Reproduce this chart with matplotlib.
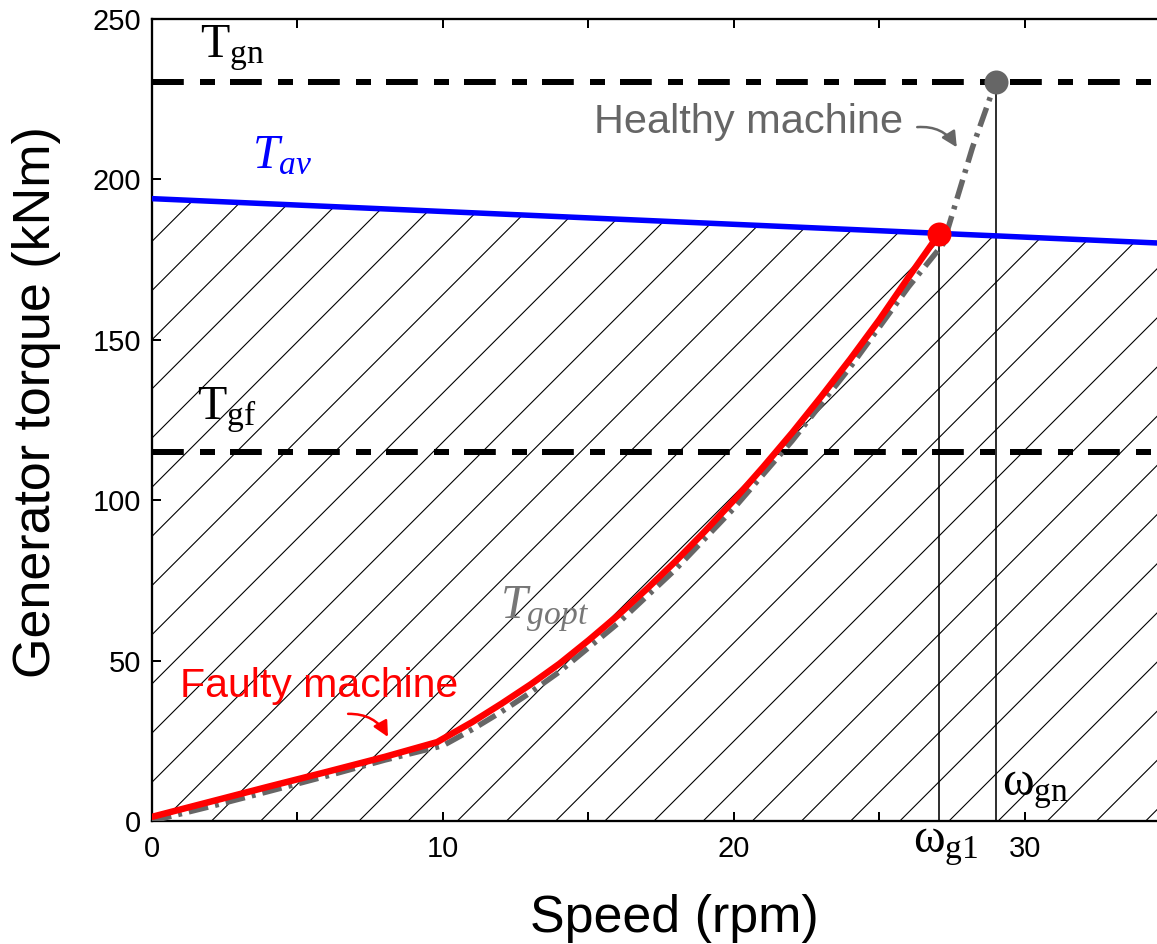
import numpy as np
import matplotlib
matplotlib.use("Agg")
import matplotlib.pyplot as plt

# torque / speed data (rpm, kNm)
healthy_speed = [0, 2, 4, 6, 8, 10, 11, 12, 13, 14, 15, 16, 17, 18, 19, 20, 21, 22,
                 23, 24, 25, 26, 27.2, 28.2, 29.0]
healthy_torque = [0, 4.5, 9.2, 14, 19, 23.5, 28.5, 34, 40, 46.5, 54, 61.5, 70, 78.5,
                  88, 97.5, 108, 118.5, 130, 141.5, 154, 166.5, 180, 210, 230.5]

faulty_speed = [0, 2, 4, 6, 8, 9.8, 11, 12, 13, 14, 15, 16, 17, 18, 19, 20, 21, 22,
                23, 24, 25, 26, 27.05]
faulty_torque = [1.3, 6, 10.7, 15.3, 20, 24.6, 30.8, 36.5, 42.5, 49, 56.3, 64, 72.3,
                 81, 90.3, 100, 110.3, 121, 132.3, 144, 156.3, 169.5, 183]

tav_speed = [0, 35]
tav_torque = [194, 180]

T_gn = 230.5
T_gf = 115
w_g1 = 27.05
w_gn = 29.0

DPI = 295
W, H = 1157, 944

def px(p):
    # pixel size -> points at the output resolution
    return p * 72.0 / DPI

plt.rcParams['font.family'] = 'Liberation Sans'
plt.rcParams['mathtext.fontset'] = 'custom'
plt.rcParams['mathtext.rm'] = 'Liberation Serif'
plt.rcParams['mathtext.it'] = 'Liberation Serif:italic'
plt.rcParams['hatch.linewidth'] = px(1.1)

fig = plt.figure(figsize=(W / DPI, H / DPI), dpi=DPI)
ax = fig.add_axes([152 / W, (H - 821) / H, (W - 152) / W, (821 - 19) / H])
ax.set_xlim(0, 34.54)
ax.set_ylim(0, 250)

# hatched region under the available torque line
xs = np.linspace(0, 35, 50)
tav_fill = np.interp(xs, tav_speed, tav_torque)
ax.fill_between(xs, 0, tav_fill, facecolor='none', edgecolor='black',
                hatch='//', linewidth=0, zorder=1)

ax.axhline(T_gn, color='black', lw=px(6), dashes=(5.3, 2.7, 2.5, 2.5), zorder=3)
ax.axhline(T_gf, color='black', lw=px(6), dashes=(5.3, 2.7, 2.5, 2.5), zorder=3)

ax.plot([w_g1, w_g1], [0, faulty_torque[-1]], color='black', lw=px(1.6), zorder=2)
ax.plot([w_gn, w_gn], [0, healthy_torque[-1]], color='black', lw=px(1.6), zorder=2)

ax.plot(tav_speed, tav_torque, color='#0000ff', lw=px(5.5), zorder=4)
ax.plot(healthy_speed, healthy_torque, color='#666666', lw=px(5.5),
        dashes=(3.6, 1.3, 0.7, 1.3), zorder=5)
ax.plot(faulty_speed, faulty_torque, color='#ff0000', lw=px(6.5), zorder=6,
        solid_capstyle='round', solid_joinstyle='round')

ax.plot(w_gn, healthy_torque[-1], 'o', color='#666666', ms=px(24), mew=0, zorder=7)
ax.plot(w_g1, faulty_torque[-1], 'o', color='#ff0000', ms=px(24), mew=0, zorder=7)

# text labels
big = px(48)
ax.text(1.65, 238, r'$\mathrm{T}_{\mathrm{gn}}$', fontsize=big, va='baseline')
ax.text(1.55, 125.3, r'$\mathrm{T}_{\mathrm{gf}}$', fontsize=big, va='baseline')
ax.text(3.43, 203.5, r'$T_{av}$', fontsize=big, va='baseline', color='#0000ff')
ax.text(11.96, 63.3, r'$T_{gopt}$', fontsize=big, va='baseline', color='#777777')
ax.text(29.2, 8.1, r'$\mathrm{\omega}_{\mathrm{gn}}$', fontsize=big, va='baseline')
ax.text(26.15, -9.7, r'$\mathrm{\omega}_{\mathrm{g1}}$', fontsize=big, va='baseline',
        clip_on=False)

ax.text(15.2, 214.5, 'Healthy machine', fontsize=px(41.5), color='#666666', va='baseline')
ax.text(0.96, 38.7, 'Faulty machine', fontsize=px(41), color='#ff0000', va='baseline')

ax.annotate('', xy=(27.66, 210), xytext=(26.3, 216.3),
            arrowprops=dict(arrowstyle='-|>', color='#666666', lw=px(2.5),
                            mutation_scale=px(32), shrinkA=0, shrinkB=0,
                            connectionstyle='arc3,rad=-0.3'))
ax.annotate('', xy=(8.11, 26.2), xytext=(6.74, 33.4),
            arrowprops=dict(arrowstyle='-|>', color='#ff0000', lw=px(2.5),
                            mutation_scale=px(32), shrinkA=0, shrinkB=0,
                            connectionstyle='arc3,rad=-0.3'))

# axes styling
ax.set_xticks([0, 10, 20, 30])
ax.set_xticks([5, 15, 25], minor=True)
ax.set_yticks([0, 50, 100, 150, 200, 250])
ax.tick_params(which='both', direction='in', top=True, right=False,
               length=px(9), width=px(2), labelsize=px(29), color='black')
ax.tick_params(axis='x', pad=px(14))
ax.tick_params(axis='y', pad=px(11))
for s in ['left', 'bottom', 'top']:
    ax.spines[s].set_linewidth(px(2.3))
ax.spines['right'].set_visible(False)

fig.text(674 / W, 1 - 932 / H, 'Speed (rpm)', fontsize=px(52), ha='center', va='baseline')
fig.text(37 / W, 1 - 402 / H, 'Generator torque (kNm)', fontsize=px(52),
         ha='center', va='center', rotation=90)

fig.savefig('out.png', dpi=DPI)
